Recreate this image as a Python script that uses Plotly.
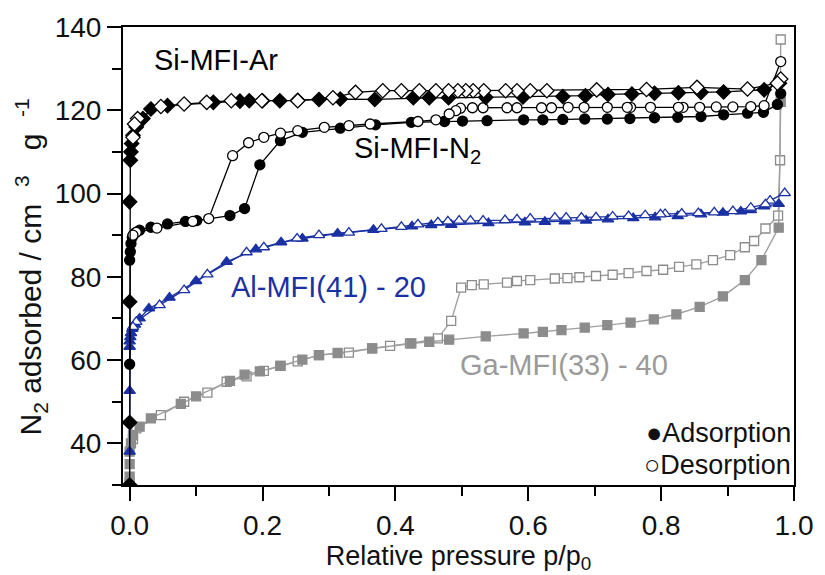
import plotly.graph_objects as go

# ---------------- data ----------------
# Si-MFI-Ar (diamonds)
ar_ads_x = [0, 0, 0, 0, 0.001, 0.002, 0.003, 0.005, 0.01, 0.02, 0.032, 0.057, 0.126, 0.166, 0.18, 0.2, 0.226,
            0.253, 0.285, 0.317, 0.369, 0.427, 0.451, 0.48, 0.536, 0.592, 0.652, 0.686, 0.72, 0.756, 0.79, 0.826,
            0.86, 0.894, 0.955, 0.978]
ar_ads_y = [30, 45, 74, 98, 108, 110, 112, 114, 116, 118, 120.3, 121.1, 121.9, 122.2, 122.3, 122.3, 122.3,
            122.4, 122.6, 122.7, 122.6, 123, 123, 123, 123.1, 123.2, 123.3, 123.5, 123.8, 123.9, 124.1, 124.2,
            124.3, 124.4, 124.9, 126.5]
ar_des_x = [0.98, 0.975, 0.93, 0.854, 0.778, 0.703, 0.628, 0.603, 0.583, 0.566, 0.533, 0.517, 0.506, 0.494,
            0.48, 0.461, 0.436, 0.409, 0.381, 0.34, 0.306, 0.253, 0.199, 0.153, 0.116, 0.082, 0.047, 0.012,
            0.0074, 0.005]
ar_des_y = [127.5, 126.5, 125.1, 125.5, 125, 124.9, 124.7, 124.7, 124.7, 124.7, 124.7, 124.7, 124.7, 124.7,
            124.7, 124.7, 124.7, 124.7, 124.7, 124.3, 123, 122.3, 122.3, 122.3, 121.9, 121.5, 120.9, 118,
            116.7, 113.5]

# Si-MFI-N2 (circles)
n2_ads_x = [0, 0, 0.001, 0.002, 0.004, 0.008, 0.015, 0.032, 0.057, 0.084, 0.101, 0.151, 0.173, 0.196, 0.227,
            0.26, 0.317, 0.37, 0.424, 0.474, 0.501, 0.538, 0.593, 0.622, 0.652, 0.685, 0.719, 0.753, 0.79,
            0.825, 0.86, 0.894, 0.93, 0.954, 0.975, 0.98]
n2_ads_y = [59, 84, 86, 88, 89.5, 90.5, 91.2, 91.9, 92.7, 93.3, 93.5, 94.7, 96.4, 106.9, 112.7, 114.7, 115.7,
            116.5, 117.1, 117.3, 117.4, 117.5, 117.7, 117.7, 117.8, 117.9, 117.9, 118, 118.2, 118.3, 118.5,
            118.9, 119.3, 119.5, 121.4, 124]
n2_des_x = [0.98, 0.955, 0.935, 0.908, 0.883, 0.858, 0.833, 0.826, 0.784, 0.754, 0.749, 0.719, 0.684, 0.66,
            0.635, 0.62, 0.583, 0.568, 0.532, 0.516, 0.498, 0.491, 0.481, 0.461, 0.434, 0.362, 0.33, 0.293,
            0.253, 0.227, 0.202, 0.179, 0.155, 0.119, 0.095, 0.041, 0.01, 0.005]
n2_des_y = [131.7, 121.1, 120.9, 120.8, 120.8, 120.7, 120.7, 120.7, 120.7, 120.7, 120.7, 120.7, 120.7, 120.7,
            120.6, 120.6, 120.6, 120.6, 120.6, 120.6, 120.5, 119.9, 119.1, 117.7, 117.3, 116.7, 116.3, 115.9,
            115.1, 114.5, 113.5, 112.2, 109.1, 94, 93.3, 91.7, 90.7, 90]

# Al-MFI(41) - 20 (triangles)
al_ads_x = [0, 0, 0, 0, 0.001, 0.002, 0.004, 0.008, 0.015, 0.029, 0.06, 0.1, 0.146, 0.19, 0.228, 0.26, 0.313,
            0.367, 0.425, 0.454, 0.484, 0.54, 0.595, 0.625, 0.655, 0.687, 0.72, 0.758, 0.791, 0.825, 0.86,
            0.893, 0.92, 0.935, 0.955, 0.977]
al_ads_y = [38, 52.6, 63.2, 64.5, 65.5, 66.5, 67.5, 68.5, 70, 72.4, 75, 79, 83.6, 86.6, 88.3, 89.2, 90.4,
            91.3, 92.1, 92.4, 92.5, 92.9, 93.1, 93.2, 93.3, 93.5, 93.8, 94.1, 94.3, 94.6, 95, 95.4, 95.7, 96,
            96.9, 97.5]
al_des_x = [0.986, 0.964, 0.957, 0.935, 0.908, 0.88, 0.856, 0.831, 0.806, 0.799, 0.776, 0.751, 0.727, 0.702,
            0.68, 0.657, 0.64, 0.603, 0.583, 0.565, 0.532, 0.513, 0.496, 0.479, 0.464, 0.434, 0.409, 0.379,
            0.33, 0.285, 0.252, 0.202, 0.176, 0.117, 0.082, 0.045, 0.01, 0.005]
al_des_y = [100.1, 98.3, 97.4, 96.6, 95.8, 95.5, 95.3, 95.2, 95.1, 95, 94.8, 94.6, 94.5, 94.3, 94.2, 94.2,
            94.2, 94, 93.8, 93.6, 93.5, 93.5, 93.5, 93.3, 93.1, 92.6, 92, 91.5, 90.6, 90, 89.2, 87.1, 85.9,
            80.6, 76.8, 73.2, 69.2, 68]

# Ga-MFI(33) - 40 (squares)
ga_ads_x = [0, 0, 0, 0, 0.002, 0.005, 0.015, 0.032, 0.077, 0.1, 0.151, 0.173, 0.196, 0.227, 0.26, 0.285,
            0.313, 0.365, 0.424, 0.451, 0.481, 0.536, 0.593, 0.622, 0.65, 0.685, 0.719, 0.754, 0.789, 0.823,
            0.858, 0.893, 0.926, 0.951, 0.977, 0.98]
ga_ads_y = [30.5, 32, 35, 38, 40, 42, 44, 46, 49.5, 51.3, 55, 56.5, 57.3, 58.6, 60.1, 61.2, 61.7, 62.8, 64,
            64.4, 64.9, 65.7, 66.4, 66.8, 67.2, 67.8, 68.4, 69, 69.8, 71, 72.8, 75.3, 79.2, 84, 91.8, 122]
ga_des_x = [0.98, 0.979, 0.976, 0.957, 0.94, 0.926, 0.904, 0.878, 0.853, 0.827, 0.803, 0.778, 0.751, 0.727,
            0.702, 0.677, 0.659, 0.64, 0.603, 0.583, 0.568, 0.533, 0.515, 0.499, 0.484, 0.464, 0.422, 0.392,
            0.365, 0.33, 0.285, 0.253, 0.227, 0.202, 0.176, 0.146, 0.117, 0.082, 0.047, 0.01, 0.005]
ga_des_y = [137, 108, 94.7, 91.6, 88.6, 87.1, 85.2, 84, 83, 82.4, 81.7, 81.4, 80.9, 80.5, 80.2, 79.9, 79.7,
            79.6, 79.2, 79, 78.6, 78.2, 78, 77.4, 69.4, 65.2, 64, 63.4, 62.8, 61.8, 61.2, 59.7, 58.6, 57.4,
            56.1, 54.8, 52.2, 50, 46.8, 43.6, 41]

x_ticks = [0.0, 0.2, 0.4, 0.6, 0.8, 1.0]
y_ticks = [40, 60, 80, 100, 120, 140]

labels = ["Si-MFI-Ar", "Si-MFI-N<sub>2</sub>", "Al-MFI(41) - 20", "Ga-MFI(33) - 40"]
legend_labels = ["\u25CFAdsorption", "\u25CBDesorption"]
x_title = "Relative pressure p/p<sub>0</sub>"
y_title = "N<sub>2</sub> adsorbed / cm&nbsp;&nbsp;<sup>3</sup>&nbsp;&nbsp;&nbsp;g&nbsp;&nbsp;<sup>-1</sup>"

# ---------------- styles ----------------
BLACK = "#000000"
BLUE = "#1a31a3"
GRAY = "#8c8c8c"
GRAY_LINE = "#a0a0a0"
FONT = "Liberation Sans, Arial, Helvetica, sans-serif"

fig = go.Figure()


def add(x, y, color, line_color, symbol, size, filled, lw=1.3):
    fig.add_trace(go.Scatter(
        x=x, y=y, mode="lines+markers", showlegend=False,
        line=dict(color=line_color, width=lw),
        marker=dict(symbol=symbol, size=size,
                    color=color if filled else "white",
                    line=dict(color=color, width=1.3)),
        hoverinfo="x+y"))


# Ga
add(ga_des_x, ga_des_y, GRAY, GRAY_LINE, "square", 9, False, 1.4)
add(ga_ads_x, ga_ads_y, GRAY, GRAY_LINE, "square", 9, True, 1.4)
# Al
add(al_ads_x, al_ads_y, BLUE, BLUE, "triangle-up", 10, True)
add(al_des_x, al_des_y, BLUE, BLUE, "triangle-up", 10, False)
# Si N2
add(n2_ads_x, n2_ads_y, BLACK, BLACK, "circle", 10, True)
add(n2_des_x, n2_des_y, BLACK, BLACK, "circle", 10, False)
# Si Ar
add(ar_ads_x, ar_ads_y, BLACK, BLACK, "diamond", 11, True)
add(ar_des_x, ar_des_y, BLACK, BLACK, "diamond", 11, False)

ann_font = dict(family=FONT, size=29)
fig.add_annotation(x=0.033, y=132, text=labels[0], showarrow=False, xanchor="left", yanchor="middle",
                   font=dict(ann_font, color=BLACK))
fig.add_annotation(x=0.335, y=110.5, text=labels[1], showarrow=False, xanchor="left", yanchor="middle",
                   font=dict(ann_font, color=BLACK))
fig.add_annotation(x=0.149, y=77.5, text=labels[2], showarrow=False, xanchor="left", yanchor="middle",
                   font=dict(ann_font, color=BLUE))
fig.add_annotation(x=0.494, y=58.8, text=labels[3], showarrow=False, xanchor="left", yanchor="middle",
                   font=dict(ann_font, color="#9a9a9a"))

leg_font = dict(family=FONT, size=27, color="#111")
fig.add_annotation(x=0.998, y=42.5, text=legend_labels[0], showarrow=False, xanchor="right",
                   yanchor="middle", font=leg_font)
fig.add_annotation(x=0.998, y=34.8, text=legend_labels[1], showarrow=False, xanchor="right",
                   yanchor="middle", font=leg_font)

# y-axis title (placed as rotated paper-annotation to match the reference's position)
fig.add_annotation(xref="paper", yref="paper", x=-0.137, y=0.475, text=y_title, textangle=-90,
                   showarrow=False, xanchor="center", yanchor="middle",
                   font=dict(family=FONT, size=30, color="#111"))

axis_common = dict(showline=True, linecolor="black", linewidth=2, mirror=True, ticks="outside",
                   tickcolor="black", tickwidth=2, ticklen=14, showgrid=False, zeroline=False,
                   tickfont=dict(family=FONT, size=28, color="#111"))

fig.update_xaxes(range=[-0.01, 1.0], tickvals=x_ticks, ticktext=[f"{v:.1f}" for v in x_ticks],
                 minor=dict(dtick=0.1, tick0=0, ticks="outside", ticklen=9, tickwidth=2, tickcolor="black"),
                 title=dict(text=x_title, font=dict(family=FONT, size=27, color="#111"), standoff=3),
                 **axis_common)
fig.update_yaxes(range=[30, 140], tickvals=y_ticks, ticktext=[str(v) for v in y_ticks],
                 minor=dict(dtick=10, tick0=0, ticks="outside", ticklen=9, tickwidth=2, tickcolor="black"),
                 **axis_common)

fig.update_layout(
    width=825, height=575,
    margin=dict(l=123, r=23, t=26, b=90),
    paper_bgcolor="white", plot_bgcolor="white",
    showlegend=False,
)

fig.write_html("out.html")
